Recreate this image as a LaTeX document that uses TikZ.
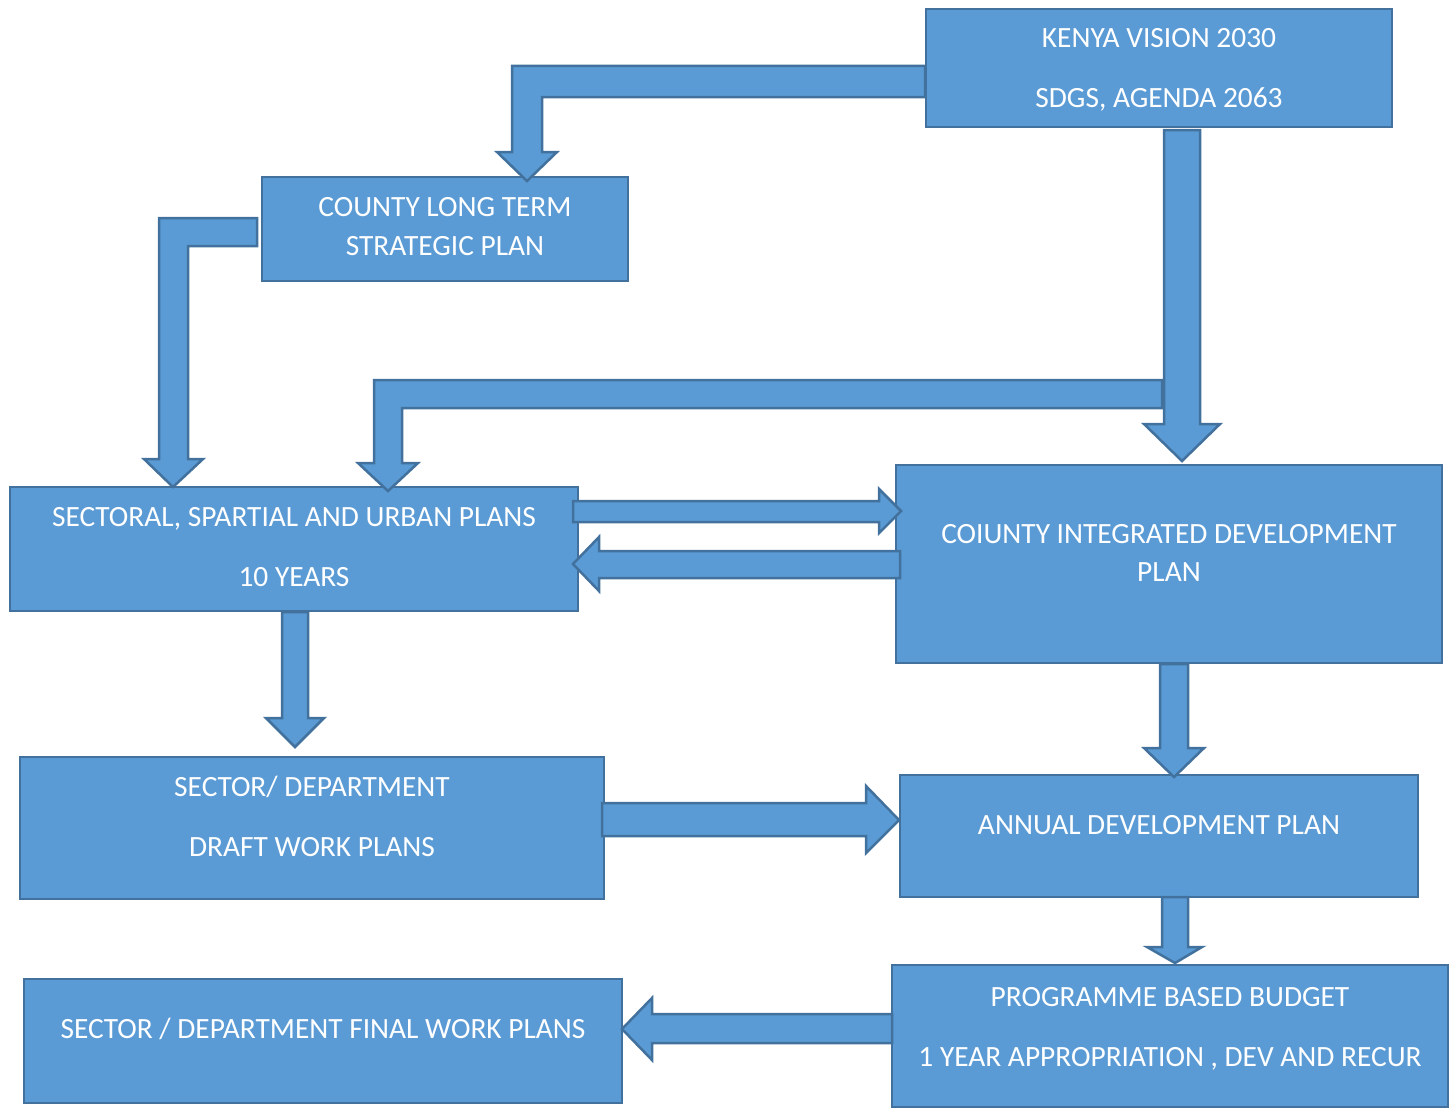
\documentclass[tikz,border=0pt]{standalone}
\usepackage{fontspec}
\setmainfont{Carlito}
\definecolor{fillcol}{HTML}{5B9BD5}
\definecolor{bordcol}{HTML}{41719C}
\begin{document}
\begin{tikzpicture}[x=1pt,y=-1pt,
  box/.style={draw=bordcol,fill=fillcol,line width=2.5pt,anchor=north west,inner sep=0pt,outer sep=0pt,minimum width=#1},
  blockarrow/.style={draw=bordcol,fill=fillcol,line width=2.5pt,line join=miter},
  txt/.style={text=white,font=\fontsize{29.4}{35}\selectfont,anchor=base,inner sep=0pt}]
\useasboundingbox (0,0) rectangle (1453,1108);
% boxes
\node[box=466pt,minimum height=118pt] (kenya) at (926,9) {};
\node[box=366pt,minimum height=104pt] (county) at (262,177) {};
\node[box=568pt,minimum height=124pt] (sect) at (10,487) {};
\node[box=546pt,minimum height=198pt] (cidp) at (896,465) {};
\node[box=584pt,minimum height=142pt] (draft) at (20,757) {};
\node[box=518pt,minimum height=122pt] (adp) at (900,775) {};
\node[box=556pt,minimum height=142pt] (pbb) at (892,965) {};
\node[box=598pt,minimum height=124pt] (final) at (24,979) {};
% block arrows
\draw[blockarrow] (925,66) -- (512,66) -- (512,152) -- (497,152) -- (527,181) -- (557,152) -- (542,152) -- (542,97) -- (925,97) -- cycle;
\draw[blockarrow] (257,218) -- (159,218) -- (159,459) -- (144,459) -- (173,487) -- (203,459) -- (188,459) -- (188,246) -- (257,246) -- cycle;
\draw[blockarrow] (1164,130) -- (1164,424) -- (1144,424) -- (1182,461) -- (1220,424) -- (1200,424) -- (1200,130) -- cycle;
\draw[blockarrow] (1162,380) -- (374,380) -- (374,463) -- (358,463) -- (388,491) -- (418,463) -- (402,463) -- (402,408) -- (1162,408) -- cycle;
\draw[blockarrow] (573,501) -- (879,501) -- (879,489) -- (901,511) -- (879,533) -- (879,522) -- (573,522) -- cycle;
\draw[blockarrow] (900,551) -- (599,551) -- (599,537) -- (573,564) -- (599,591) -- (599,578) -- (900,578) -- cycle;
\draw[blockarrow] (282,612) -- (282,718) -- (266,718) -- (295,747) -- (324,718) -- (308,718) -- (308,612) -- cycle;
\draw[blockarrow] (1160,664) -- (1160,748) -- (1144,748) -- (1174,777) -- (1204,748) -- (1188,748) -- (1188,664) -- cycle;
\draw[blockarrow] (602,803) -- (866,803) -- (866,786) -- (899,820) -- (866,853) -- (866,836) -- (602,836) -- cycle;
\draw[blockarrow] (1162,897) -- (1162,947) -- (1147,947) -- (1175,963) -- (1202,947) -- (1188,947) -- (1188,897) -- cycle;
\draw[blockarrow] (892,1014) -- (652,1014) -- (652,998) -- (622,1029) -- (652,1060) -- (652,1043) -- (892,1043) -- cycle;
% texts
\node[txt] (kenyaA) at (1159,48) {KENYA VISION 2030};
\node[txt] (kenyaB) at (1159,107) {SDGS, AGENDA 2063};
\node[txt] (countyA) at (445,216) {COUNTY LONG TERM};
\node[txt] (countyB) at (445,255) {STRATEGIC PLAN};
\node[txt] (sectA) at (294,526) {SECTORAL, SPARTIAL AND URBAN PLANS};
\node[txt] (sectB) at (294,586) {10 YEARS};
\node[txt] (cidpA) at (1169,543) {COIUNTY INTEGRATED DEVELOPMENT};
\node[txt] (cidpB) at (1169,581) {PLAN};
\node[txt] (draftA) at (312,796) {SECTOR/ DEPARTMENT};
\node[txt] (draftB) at (312,856) {DRAFT WORK PLANS};
\node[txt] (adpA) at (1159,834) {ANNUAL DEVELOPMENT PLAN};
\node[txt] (pbbA) at (1170,1006) {PROGRAMME BASED BUDGET};
\node[txt] (pbbB) at (1170,1066) {1 YEAR APPROPRIATION , DEV AND RECUR};
\node[txt] (finalA) at (323,1038) {SECTOR / DEPARTMENT FINAL WORK PLANS};
\end{tikzpicture}
\end{document}
